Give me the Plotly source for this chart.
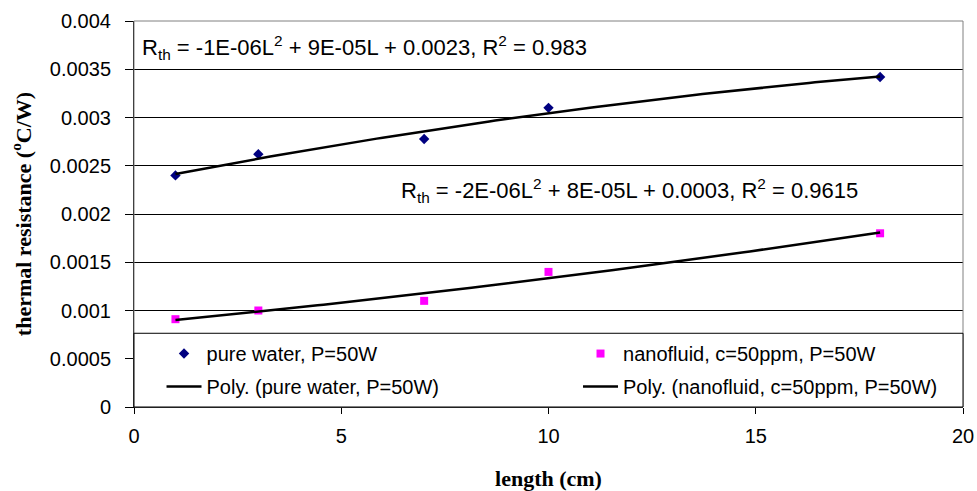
import numpy as np
import plotly.graph_objects as go

# ---- data ----
length_cm = [1, 3, 7, 10, 18]
pure_water = [0.0024, 0.00262, 0.002777, 0.0031, 0.00342]
nanofluid = [0.00091, 0.0010, 0.0011, 0.0014, 0.0018]
x_ticks = [0, 5, 10, 15, 20]
y_ticks = [0, 0.0005, 0.001, 0.0015, 0.002, 0.0025, 0.003, 0.0035, 0.004]
y_tick_text = ["0", "0.0005", "0.001", "0.0015", "0.002", "0.0025", "0.003", "0.0035", "0.004"]
name_pw = "pure water, P=50W"
name_nf = "nanofluid, c=50ppm, P=50W"
eq_pw = "R<sub>th</sub> = -1E-06L<sup>2</sup> + 9E-05L + 0.0023, R<sup>2</sup> = 0.983"
eq_nf = "R<sub>th</sub> = -2E-06L<sup>2</sup> + 8E-05L + 0.0003, R<sup>2</sup> = 0.9615"

# polynomial (order 2) trendlines fitted to the data, as in the original
xs_fit = np.linspace(min(length_cm), max(length_cm), 120)
fit_pw = np.polyval(np.polyfit(length_cm, pure_water, 2), xs_fit)
fit_nf = np.polyval(np.polyfit(length_cm, nanofluid, 2), xs_fit)

SANS = "Liberation Sans, Arial, sans-serif"
SERIF = "Liberation Serif, Times New Roman, serif"

fig = go.Figure()
fig.add_trace(go.Scatter(x=length_cm, y=pure_water, mode="markers", name=name_pw,
                         legend="legend", legendgroup="a",
                         marker=dict(symbol="diamond", size=8, color="#000080")))
fig.add_trace(go.Scatter(x=length_cm, y=nanofluid, mode="markers", name=name_nf,
                         legend="legend2", legendgroup="b",
                         marker=dict(symbol="square", size=8, color="#FF00FF")))
fig.add_trace(go.Scatter(x=xs_fit, y=fit_pw, mode="lines", name="Poly. (" + name_pw + ")",
                         legend="legend", legendgroup="c",
                         line=dict(color="black", width=2.5)))
fig.add_trace(go.Scatter(x=xs_fit, y=fit_nf, mode="lines", name="Poly. (" + name_nf + ")",
                         legend="legend2", legendgroup="d",
                         line=dict(color="black", width=2.5)))

fig.add_annotation(x=0.15, y=0.00373, xref="x", yref="y", text=eq_pw, showarrow=False,
                   xanchor="left", yanchor="middle", font=dict(family=SANS, size=22, color="black"))
fig.add_annotation(x=6.4, y=0.00224, xref="x", yref="y", text=eq_nf, showarrow=False,
                   xanchor="left", yanchor="middle", font=dict(family=SANS, size=22, color="black"))

# plot-area border (grey top/right)
fig.add_shape(type="rect", xref="paper", yref="paper", x0=0, y0=0, x1=1, y1=1,
              line=dict(color="#808080", width=1), layer="above")
# legend box
fig.add_shape(type="rect", xref="paper", yref="paper", x0=0, y0=0, x1=1, y1=0.191,
              line=dict(color="black", width=1), fillcolor="white", layer="above")

leg_common = dict(orientation="v", yref="paper", y=0.189, xanchor="left", yanchor="top",
                  bgcolor="rgba(0,0,0,0)", borderwidth=0, itemwidth=35,
                  tracegroupgap=4, traceorder="grouped",
                  font=dict(family=SANS, size=20, color="black"))

fig.update_layout(
    width=977, height=491,
    margin=dict(l=134, r=14, t=21, b=84, autoexpand=False),
    paper_bgcolor="white", plot_bgcolor="white",
    font=dict(family=SANS, size=20, color="black"),
    showlegend=True,
    legend=dict(x=0.0332, **leg_common),
    legend2=dict(x=0.5356, **leg_common),
)
fig.update_xaxes(range=[0, 20], tickvals=x_ticks, ticks="outside", ticklen=6,
                 tickcolor="black", showline=True, linecolor="black", linewidth=1,
                 showgrid=False, zeroline=False, ticklabelstandoff=5,
                 tickfont=dict(family=SANS, size=20),
                 title=dict(text="<b>length (cm)</b>", font=dict(family=SERIF, size=22), standoff=28))
fig.update_yaxes(range=[0, 0.004], tickvals=y_ticks, ticktext=y_tick_text, ticks="outside",
                 ticklen=8, tickcolor="black", showline=True, linecolor="black", linewidth=1,
                 showgrid=True, gridcolor="black", gridwidth=1, zeroline=False,
                 ticklabelstandoff=10,
                 tickfont=dict(family=SANS, size=20),
                 title=dict(text="<b>thermal resistance (<sup>o</sup>C/W)</b>",
                            font=dict(family=SERIF, size=22), standoff=12))

fig.write_html("out.html")
